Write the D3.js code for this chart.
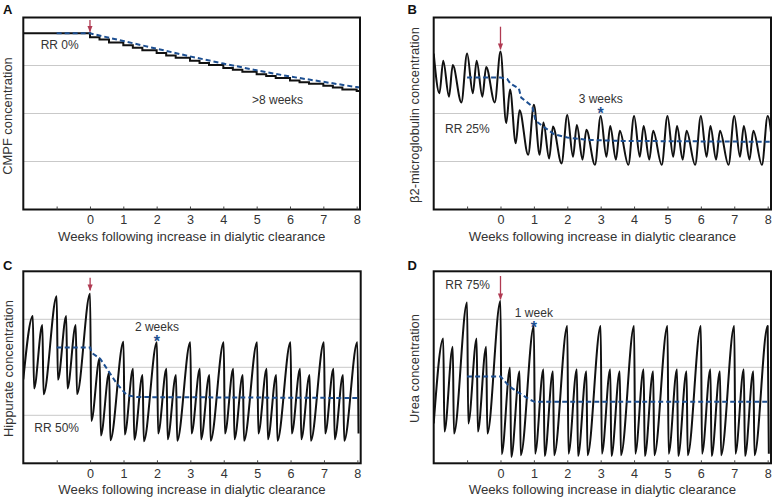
<!DOCTYPE html>
<html><head><meta charset="utf-8">
<script src="https://cdn.jsdelivr.net/npm/d3@7"></script>
<style>
body{margin:0;background:#fff}
svg{display:block;font-family:"Liberation Sans",Arial,Helvetica,sans-serif}
</style>
</head><body>
<svg id="chart" width="772" height="503"></svg>
<script>
// ---------------- DATA ----------------
// dialysis session times (weeks): Mon / Wed / Fri schedule
const sessions = [-2, -1.714, -1.429, -1, -0.714, -0.429, 0, 0.286, 0.571, 1, 1.286, 1.571,
  2, 2.286, 2.571, 3, 3.286, 3.571, 4, 4.286, 4.571, 5, 5.286, 5.571,
  6, 6.286, 6.571, 7, 7.286, 7.571, 8];
const weekTicks = [-1, 0, 1, 2, 3, 4, 5, 6, 7, 8];
const weekTickLabels = ["", "0", "1", "2", "3", "4", "5", "6", "7", "8"];
const xTitle = "Weeks following increase in dialytic clearance";

// Panel A: CMPF (RR 0%)
const aStartLevel = 3.67;
const aStepLevels = [3.59, 3.54, 3.48, 3.42, 3.37, 3.32, 3.26, 3.21, 3.16, 3.10, 3.05, 3.01,
  2.95, 2.91, 2.87, 2.82, 2.78, 2.74, 2.69, 2.65, 2.62, 2.58, 2.54, 2.50, 2.47];
const aMeanWeeks = [-1, 0, 1, 2, 3, 4, 5, 6, 7, 8, 8.1];
const aMeanValues = [3.67, 3.67, 3.51, 3.35, 3.19, 3.04, 2.90, 2.77, 2.66, 2.55, 2.54];

// Panel B: beta2-microglobulin (RR 25%)
const bPeaks = [3.25, 3.10, 3.01, 3.25, 3.10, 2.97, 3.29, 2.50, 2.07, 2.18, 1.81, 1.73,
  1.97, 1.76, 1.66, 1.95, 1.74, 1.64, 1.95, 1.74, 1.64, 1.95, 1.74, 1.64,
  1.95, 1.74, 1.64, 1.95, 1.74, 1.64, 1.95];
const bTroughs = [2.42, 2.35, 2.23, 2.42, 2.35, 2.23, 1.80, 1.38, 1.14, 1.14, 1.06, 0.96,
  1.10, 1.04, 0.93, 1.10, 1.04, 0.93, 1.10, 1.04, 0.93, 1.10, 1.04, 0.93,
  1.10, 1.04, 0.93, 1.10, 1.04, 0.93, 1.10];
const bMeanWeeks = [-1, 0, 0.2, 0.3, 0.55, 0.62, 0.95, 1.05, 1.3, 1.6, 2, 2.6, 3.5, 8.1];
const bMeanValues = [2.75, 2.75, 2.72, 2.62, 2.52, 2.33, 2.15, 1.85, 1.72, 1.57, 1.50, 1.45, 1.43, 1.41];

// Panel C: hippurate (RR 50%)
const cPeaks = [null, 3.07, 2.88, 3.48, 3.07, 2.88, 3.53, 2.19, 1.89, 2.53, 1.97, 1.84,
  2.52, 1.97, 1.84, 2.52, 1.97, 1.84, 2.52, 1.97, 1.84, 2.52, 1.97, 1.84,
  2.52, 1.97, 1.84, 2.52, 1.97, 1.84, 2.52];
const cTroughs = [1.75, 1.56, 1.44, 1.74, 1.56, 1.44, 0.88, 0.58, 0.48, 0.60, 0.49, 0.46,
  0.62, 0.50, 0.47, 0.62, 0.50, 0.47, 0.62, 0.50, 0.47, 0.62, 0.50, 0.47,
  0.62, 0.50, 0.47, 0.62, 0.50, 0.47, 0.62];
const cMeanWeeks = [-1, 0, 0.05, 0.3, 0.6, 0.8, 1.1, 1.4, 8.1];
const cMeanValues = [2.41, 2.41, 2.30, 2.18, 1.87, 1.66, 1.42, 1.38, 1.36];

// Panel D: urea (RR 75%)
const dPeaks = [null, 2.60, 2.43, 3.35, 2.60, 2.43, 3.38, 1.99, 1.92, 2.86, 1.96, 1.92,
  2.86, 1.96, 1.92, 2.86, 1.96, 1.92, 2.86, 1.96, 1.92, 2.86, 1.96, 1.92,
  2.86, 1.96, 1.92, 2.86, 1.96, 1.92, 2.86];
const dTroughs = [0.83, 0.66, 0.62, 0.83, 0.66, 0.62, 0.19, 0.13, 0.17, 0.20, 0.15, 0.17,
  0.20, 0.15, 0.17, 0.20, 0.15, 0.17, 0.20, 0.15, 0.17, 0.20, 0.15, 0.17,
  0.20, 0.15, 0.17, 0.20, 0.15, 0.17, 0.20];
const dMeanWeeks = [-1, 0, 0.27, 0.57, 0.87, 1.02, 8.1];
const dMeanValues = [1.81, 1.81, 1.60, 1.46, 1.33, 1.28, 1.28];

// ---------------- DRAWING ----------------
const svg = d3.select("#chart");
const TXT = "#333";
const BLUE = "#1d4f91";
const RED = "#b03a52";

svg.append("defs").append("marker")
  .attr("id", "arr").attr("viewBox", "0 0 10 10").attr("refX", 9).attr("refY", 5)
  .attr("markerWidth", 5).attr("markerHeight", 5).attr("orient", "auto")
  .append("path").attr("d", "M0,1 L10,5 L0,9 Z").attr("fill", RED);

function pairs(ws, vs) { return ws.map((w, i) => [w, vs[i]]); }

function wavePoints(peaks, troughs, mode) {
  const pts = [];
  sessions.forEach((t, i) => {
    const next = i + 1 < sessions.length ? sessions[i + 1] : t + 0.286;
    if (peaks[i] != null) pts.push([t, peaks[i]]);
    let tt;
    if (peaks[i] == null) tt = t;
    else if (mode === "smooth") tt = t + 0.6 * (next - t);
    else tt = t + 0.035;
    pts.push([tt, troughs[i]]);
  });
  return pts;
}

const panels = [
  {id: "A", left: 23.3, right: 360, top: 17.5, bottom: 209.5, ytitle: "CMPF concentration",
   ytx: 11.5, yty: 116},
  {id: "B", left: 433.7, right: 771, top: 17.5, bottom: 209.5, ytitle: "β2-microglobulin concentration",
   ytx: 419, yty: 115},
  {id: "C", left: 23.3, right: 360.7, top: 271.3, bottom: 463.3, ytitle: "Hippurate concentration",
   ytx: 12.5, yty: 368.5},
  {id: "D", left: 433.7, right: 771, top: 271.3, bottom: 463.3, ytitle: "Urea concentration",
   ytx: 419, yty: 368.5}
];

panels.forEach(p => {
  const g = svg.append("g");
  const x = d3.scaleLinear().domain([-2, 8.1]).range([p.left, p.right]);
  const y = d3.scaleLinear().domain([0, 4]).range([p.bottom, p.top]);
  p.x = x; p.y = y; p.g = g;

  // gridlines
  g.selectAll("line.grid").data([1, 2, 3]).join("line")
    .attr("x1", p.left).attr("x2", p.right)
    .attr("y1", d => y(d)).attr("y2", d => y(d))
    .attr("stroke", "#c9c9c9").attr("stroke-width", 1);

  const clipId = "clip" + p.id;
  svg.select("defs").append("clipPath").attr("id", clipId)
    .append("rect").attr("x", p.left).attr("y", p.top)
    .attr("width", p.right - p.left).attr("height", p.bottom - p.top);
  p.plot = g.append("g").attr("clip-path", `url(#${clipId})`);

  // frame
  g.append("rect").attr("x", p.left).attr("y", p.top)
    .attr("width", p.right - p.left).attr("height", p.bottom - p.top)
    .attr("fill", "none").attr("stroke", "#111").attr("stroke-width", 2);

  // x axis
  const ax = g.append("g").attr("transform", `translate(0,${p.bottom})`)
    .call(d3.axisBottom(x).tickValues(weekTicks)
      .tickFormat((d, i) => weekTickLabels[i])
      .tickSizeInner(-3).tickSizeOuter(0).tickPadding(5.5));
  ax.select(".domain").remove();
  ax.selectAll(".tick line").attr("stroke", "#444");
  ax.selectAll(".tick text").attr("fill", TXT).style("font-size", "12.6px")
    .style("font-family", '"Liberation Sans",Arial,sans-serif');

  g.append("text").attr("x", (p.left + p.right) / 2).attr("y", p.bottom + 31)
    .attr("text-anchor", "middle").attr("fill", TXT).style("font-size", "13.2px").text(xTitle);

  g.append("text").attr("transform", `translate(${p.ytx},${p.yty}) rotate(-90)`)
    .attr("text-anchor", "middle").attr("fill", TXT).style("font-size", "12.9px").text(p.ytitle);

  g.append("text").attr("x", p.id === "A" || p.id === "C" ? 3 : 407.5)
    .attr("y", p.id === "A" || p.id === "B" ? 13.5 : 269.5)
    .attr("fill", "#111").style("font-size", "13px").style("font-weight", "bold").text(p.id);
});

const [A, B, C, D] = panels;
const meanLine = (p, pts) => p.plot.append("path").datum(pts)
  .attr("d", d3.line().x(d => p.x(d[0])).y(d => p.y(d[1])))
  .attr("fill", "none").attr("stroke", BLUE).attr("stroke-width", 2).attr("stroke-dasharray", "5,3");

// A: staircase
{
  const pts = [[-2, aStartLevel]];
  const postSessions = sessions.filter(s => s >= 0);
  postSessions.forEach((s, i) => pts.push([s, aStepLevels[i]]));
  pts.push([8.1, aStepLevels[aStepLevels.length - 1]]);
  A.plot.append("path").datum(pts)
    .attr("d", d3.line().x(d => A.x(d[0])).y(d => A.y(d[1])).curve(d3.curveStepAfter))
    .attr("fill", "none").attr("stroke", "#111").attr("stroke-width", 2);
  meanLine(A, pairs(aMeanWeeks, aMeanValues));
}
// B, C, D: waves
[[B, bPeaks, bTroughs, "smooth", bMeanWeeks, bMeanValues],
 [C, cPeaks, cTroughs, "saw", cMeanWeeks, cMeanValues],
 [D, dPeaks, dTroughs, "saw", dMeanWeeks, dMeanValues]].forEach(([p, pk, tr, mode, mw, mv]) => {
  const pts = wavePoints(pk, tr, mode);
  p.plot.append("path").datum(pts)
    .attr("d", d3.line().x(d => p.x(d[0])).y(d => p.y(d[1])).curve(d3.curveMonotoneX))
    .attr("fill", "none").attr("stroke", "#111").attr("stroke-width", 2).attr("stroke-linejoin", "round");
  meanLine(p, pairs(mw, mv));
});

// arrows at week 0
[[A, 20, 31.7], [B, 26.7, 49.3], [C, 277.7, 290.3], [D, 276, 299.3]].forEach(([p, y1, y2]) => {
  svg.append("line").attr("x1", p.x(0)).attr("x2", p.x(0)).attr("y1", y1).attr("y2", y2)
    .attr("stroke", RED).attr("stroke-width", 1.3).attr("marker-end", "url(#arr)");
});

// annotations
const ann = (x, y, t, anchor) => svg.append("text").attr("x", x).attr("y", y)
  .attr("text-anchor", anchor || "start").attr("fill", TXT).style("font-size", "12px").text(t);
ann(40.7, 48.5, "RR 0%");
ann(252, 103.5, ">8 weeks");
ann(445, 132.5, "RR 25%");
ann(B.x(3), 103, "3 weeks", "middle");
ann(34.3, 431.5, "RR 50%");
ann(C.x(2), 330.5, "2 weeks", "middle");
ann(445.3, 288.5, "RR 75%");
ann(D.x(1), 316.5, "1 week", "middle");
const star = (x, y) => svg.append("text").attr("x", x).attr("y", y).attr("text-anchor", "middle")
  .attr("fill", BLUE).style("font-size", "16px").style("font-weight", "bold").text("*");
star(B.x(3), 119);
star(C.x(2), 347);
star(D.x(1), 332.5);
</script>
</body></html>
